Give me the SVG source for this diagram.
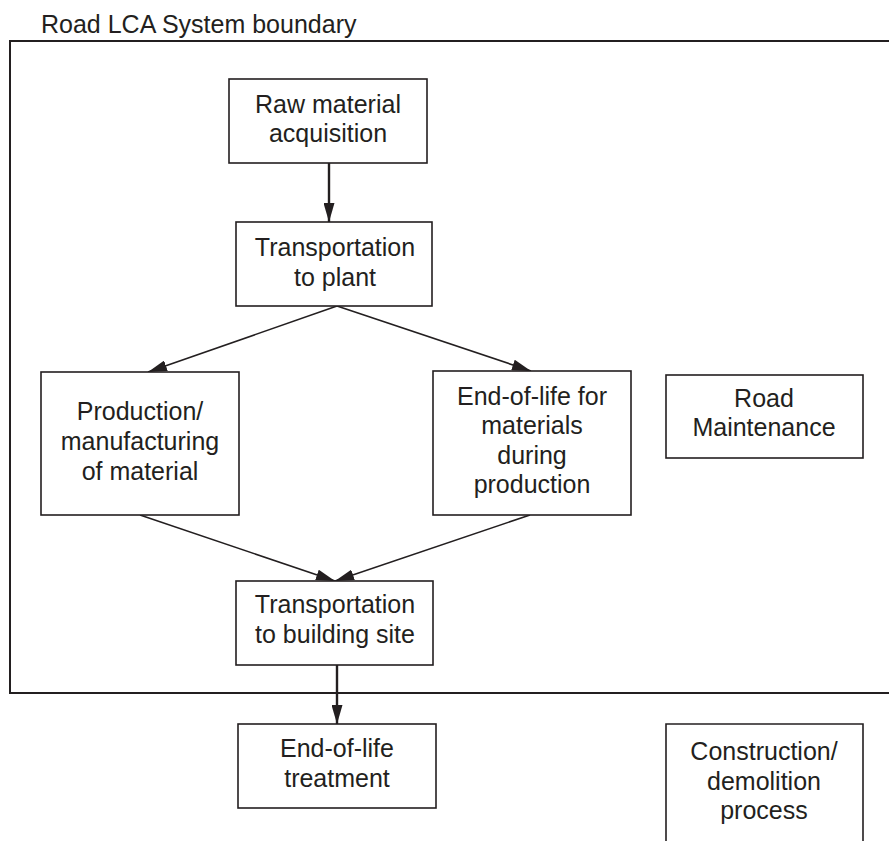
<svg xmlns="http://www.w3.org/2000/svg" width="889" height="841" viewBox="0 0 889 841">
  <style>
    .box { fill: #ffffff; stroke: #231f20; stroke-width: 1.6; }
    .lbl { font-family: "Liberation Sans", Arial, sans-serif; font-size: 25px; fill: #231f20; text-anchor: middle; }
    .title { font-family: "Liberation Sans", Arial, sans-serif; font-size: 25px; fill: #231f20; }
    .edge { stroke: #231f20; fill: none; stroke-width: 1.6; }
    .edge-v { stroke: #231f20; fill: none; stroke-width: 2.4; }
  </style>
  <defs>
    <marker id="head" viewBox="0 0 19 11" refX="19" refY="5.5" markerWidth="19" markerHeight="11" markerUnits="userSpaceOnUse" orient="auto">
      <path d="M0,0 L19,5.5 L0,11 Z" fill="#231f20"/>
    </marker>
  </defs>

  <rect width="889" height="841" fill="#ffffff"/>

  <!-- system boundary: open on the right -->
  <g id="boundary">
    <path d="M889,41 H10 V693 H889" fill="none" stroke="#231f20" stroke-width="2"/>
    <text class="title" x="41" y="33">Road LCA System boundary</text>
  </g>

  <g id="connectors">
    <line class="edge-v" x1="329" y1="163" x2="329" y2="222" marker-end="url(#head)"/>
    <line class="edge" x1="337" y1="306" x2="148" y2="372" marker-end="url(#head)"/>
    <line class="edge" x1="337" y1="306" x2="531" y2="371" marker-end="url(#head)"/>
    <line class="edge" x1="140" y1="515" x2="335" y2="581" marker-end="url(#head)"/>
    <line class="edge" x1="530" y1="515" x2="335" y2="581" marker-end="url(#head)"/>
    <line class="edge-v" x1="337" y1="665" x2="337" y2="724" marker-end="url(#head)"/>
  </g>

  <g id="raw-material">
    <rect class="box" x="229" y="79" width="198" height="84"/>
    <text class="lbl" x="328" y="113">Raw material</text>
    <text class="lbl" x="328" y="142">acquisition</text>
  </g>

  <g id="transport-plant">
    <rect class="box" x="236" y="222" width="196" height="84"/>
    <text class="lbl" x="335" y="256">Transportation</text>
    <text class="lbl" x="335" y="286">to plant</text>
  </g>

  <g id="production">
    <rect class="box" x="41" y="372" width="198" height="143"/>
    <text class="lbl" x="140" y="420">Production/</text>
    <text class="lbl" x="140" y="450">manufacturing</text>
    <text class="lbl" x="140" y="480">of material</text>
  </g>

  <g id="eol-production">
    <rect class="box" x="433" y="371" width="198" height="144"/>
    <text class="lbl" x="532" y="405">End-of-life for</text>
    <text class="lbl" x="532" y="434">materials</text>
    <text class="lbl" x="532" y="464">during</text>
    <text class="lbl" x="532" y="493">production</text>
  </g>

  <g id="road-maintenance">
    <rect class="box" x="666" y="375" width="197" height="83"/>
    <text class="lbl" x="764" y="407">Road</text>
    <text class="lbl" x="764" y="436">Maintenance</text>
  </g>

  <g id="transport-site">
    <rect class="box" x="236" y="581" width="197" height="84"/>
    <text class="lbl" x="335" y="613">Transportation</text>
    <text class="lbl" x="335" y="643">to building site</text>
  </g>

  <g id="eol-treatment">
    <rect class="box" x="238" y="724" width="198" height="84"/>
    <text class="lbl" x="337" y="757">End-of-life</text>
    <text class="lbl" x="337" y="787">treatment</text>
  </g>

  <g id="construction">
    <path class="box" d="M666,845 V724 H863 V845"/>
    <text class="lbl" x="764" y="760">Construction/</text>
    <text class="lbl" x="764" y="790">demolition</text>
    <text class="lbl" x="764" y="819">process</text>
  </g>
</svg>
